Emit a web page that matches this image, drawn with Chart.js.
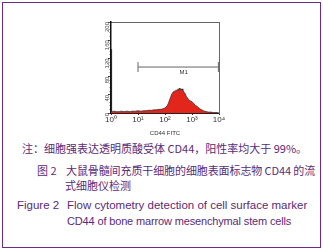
<!DOCTYPE html>
<html><head><meta charset="utf-8">
<script src="https://cdn.jsdelivr.net/npm/chart.js@4"></script>
<style>
html,body{margin:0;padding:0;background:#fff;}
body{width:323px;height:250px;position:relative;overflow:hidden;}
#frame{position:absolute;left:2px;top:2px;width:319px;height:246px;border:1.5px solid #6b2c86;box-sizing:border-box;}
#wrap{position:absolute;left:95px;top:12px;width:135px;height:125px;}
.t{position:absolute;white-space:nowrap;color:#5b2a78;}
.cn{font-family:"Noto Sans CJK SC","Noto Sans",sans-serif;font-size:11px;}
.en{font-family:"Liberation Sans",Arial,sans-serif;font-size:11.5px;}
</style></head>
<body>
<div id="frame"></div>
<div id="wrap"><canvas id="c" width="135" height="125"></canvas></div>
<div class="t cn" style="left:22px;top:140px;">注：细胞强表达透明质酸受体 CD44，阳性率均大于 99%。</div>
<div class="t cn" style="left:37px;top:162px;">图 2</div>
<div class="t cn" style="left:66px;top:162px;letter-spacing:-0.1px;">大鼠骨髓间充质干细胞的细胞表面标志物 CD44 的流</div>
<div class="t cn" style="left:65px;top:177px;">式细胞仪检测</div>
<div class="t en" style="left:17px;top:199px;">Figure 2</div>
<div class="t en" style="left:67px;top:199px;">Flow cytometry detection of cell surface marker</div>
<div class="t en" style="left:67px;top:215px;font-size:11px;letter-spacing:-0.15px;">CD44 of bone marrow mesenchymal stem cells</div>
<script>
// Fluorescence channel (CD44 FITC, log scale) and event counts
const fitc   = [1, 1.05, 1.1, 1.3, 1.6, 2, 2.5, 3, 4, 5, 6, 8, 10, 13, 16, 20, 25, 32, 40, 50, 60, 70, 80, 90, 100, 110, 120, 135, 150, 165, 180, 200, 220, 240, 260, 280, 300, 320, 340, 360, 380, 400, 430, 460, 500, 540, 580, 620, 680, 740, 800, 900, 1000, 1100, 1250, 1400, 1600, 1800, 2000, 2300, 2600, 3000, 3500, 4000, 5000, 6000, 7000, 8500, 10000];
const counts = [140, 3, 3, 4, 3, 3, 4, 3, 4, 3, 4, 4, 5, 4, 5, 5, 6, 6, 7, 7, 8, 8, 9, 10, 11, 13, 16, 22, 30, 36, 42, 46, 48, 47, 51, 49, 53, 50, 55, 52, 54, 51, 53, 50, 46, 44, 40, 36, 33, 30, 28, 26, 25, 22, 19, 16, 14, 11, 9, 7, 5, 4, 3, 2, 2, 1, 1, 1, 0];
const xTicks = [1, 10, 100, 1000, 10000];
const xTickLabels = ["10⁰", "10¹", "10²", "10³", "10⁴"];
const yTicks = [0, 40, 80, 120, 160, 200];
const markerRange = [10, 9500];
const markerLevel = 101;
const markerLabel = "M1";
const xTitle = "CD44 FITC";

const histData = fitc.map((x, i) => ({x: x, y: counts[i]}));
const markerData = markerRange.map(x => ({x: x, y: markerLevel}));

const markerLabelPlugin = {
  id: 'markerLabel',
  afterDatasetsDraw(chart) {
    const xs = chart.scales.x, ys = chart.scales.y, ctx = chart.ctx;
    const cx = xs.getPixelForValue(Math.sqrt(markerRange[0] * markerRange[1]) * 1.6);
    const cy = ys.getPixelForValue(markerLevel);
    ctx.save();
    ctx.font = '6px "Liberation Sans", Arial, sans-serif';
    ctx.fillStyle = '#333';
    ctx.textAlign = 'center';
    ctx.textBaseline = 'top';
    ctx.fillText(markerLabel, cx, cy + 2);
    ctx.restore();
  }
};

new Chart(document.getElementById('c'), {
  type: 'line',
  data: {
    datasets: [
      {data: histData, borderColor: '#222', borderWidth: 0.7, backgroundColor: '#e3261c', fill: 'origin', pointRadius: 0, tension: 0},
      {data: markerData, borderColor: '#666', borderWidth: 1, fill: false, pointStyle: 'line', rotation: 90, pointRadius: 5, pointBorderColor: '#666', pointBorderWidth: 1}
    ]
  },
  plugins: [markerLabelPlugin],
  options: {
    responsive: false,
    animation: false,
    events: [],
    layout: {padding: {left: 0, right: 11, top: 10, bottom: 0}},
    plugins: {legend: {display: false}, tooltip: {enabled: false}},
    scales: {
      x: {
        type: 'logarithmic', min: 1, max: 10000, position: 'bottom',
        afterBuildTicks: s => { s.ticks = xTicks.map(v => ({value: v})); },
        afterFit: s => { s.height = 24; },
        ticks: {callback: (v) => xTickLabels[xTicks.indexOf(v)], font: {size: 8, family: '"Liberation Sans", Arial, sans-serif'}, color: '#333', padding: 0, maxRotation: 0, autoSkip: false},
        grid: {display: true, drawOnChartArea: false, drawTicks: true, tickLength: 2, color: '#333'},
        border: {display: true, color: '#222', width: 1},
        title: {display: true, text: xTitle, font: {size: 6, family: '"Liberation Sans", Arial, sans-serif'}, color: '#333', padding: 0}
      },
      x2: {
        type: 'linear', position: 'top', display: true,
        afterFit: s => { s.height = 0; },
        ticks: {display: false}, grid: {display: false},
        border: {display: true, color: '#666', width: 1}
      },
      y: {
        type: 'linear', min: 0, max: 200, position: 'left', weight: 1,
        afterBuildTicks: s => { s.ticks = yTicks.map(v => ({value: v})); },
        afterFit: s => { s.width = 16; },
        ticks: {font: {size: 6, family: '"Liberation Sans", Arial, sans-serif'}, color: '#444', padding: 1, minRotation: 90, maxRotation: 90},
        grid: {display: true, drawOnChartArea: false, drawTicks: true, tickLength: 3, color: '#333'},
        border: {display: true, color: '#111', width: 1.5}
      },
      yMinor: {
        type: 'linear', min: 0, max: 200, position: 'left', weight: 0,
        afterBuildTicks: s => { const t = []; for (let v = 0; v <= 200; v += 8) t.push({value: v}); s.ticks = t; },
        afterFit: s => { s.width = 0; },
        ticks: {display: false},
        grid: {display: true, drawOnChartArea: false, drawTicks: true, tickLength: 1.5, color: '#777'},
        border: {display: false}
      },
      y2: {
        type: 'linear', position: 'right', display: true,
        afterFit: s => { s.width = 0; },
        ticks: {display: false}, grid: {display: false},
        border: {display: true, color: '#666', width: 1}
      }
    }
  }
});
</script>
</body></html>
